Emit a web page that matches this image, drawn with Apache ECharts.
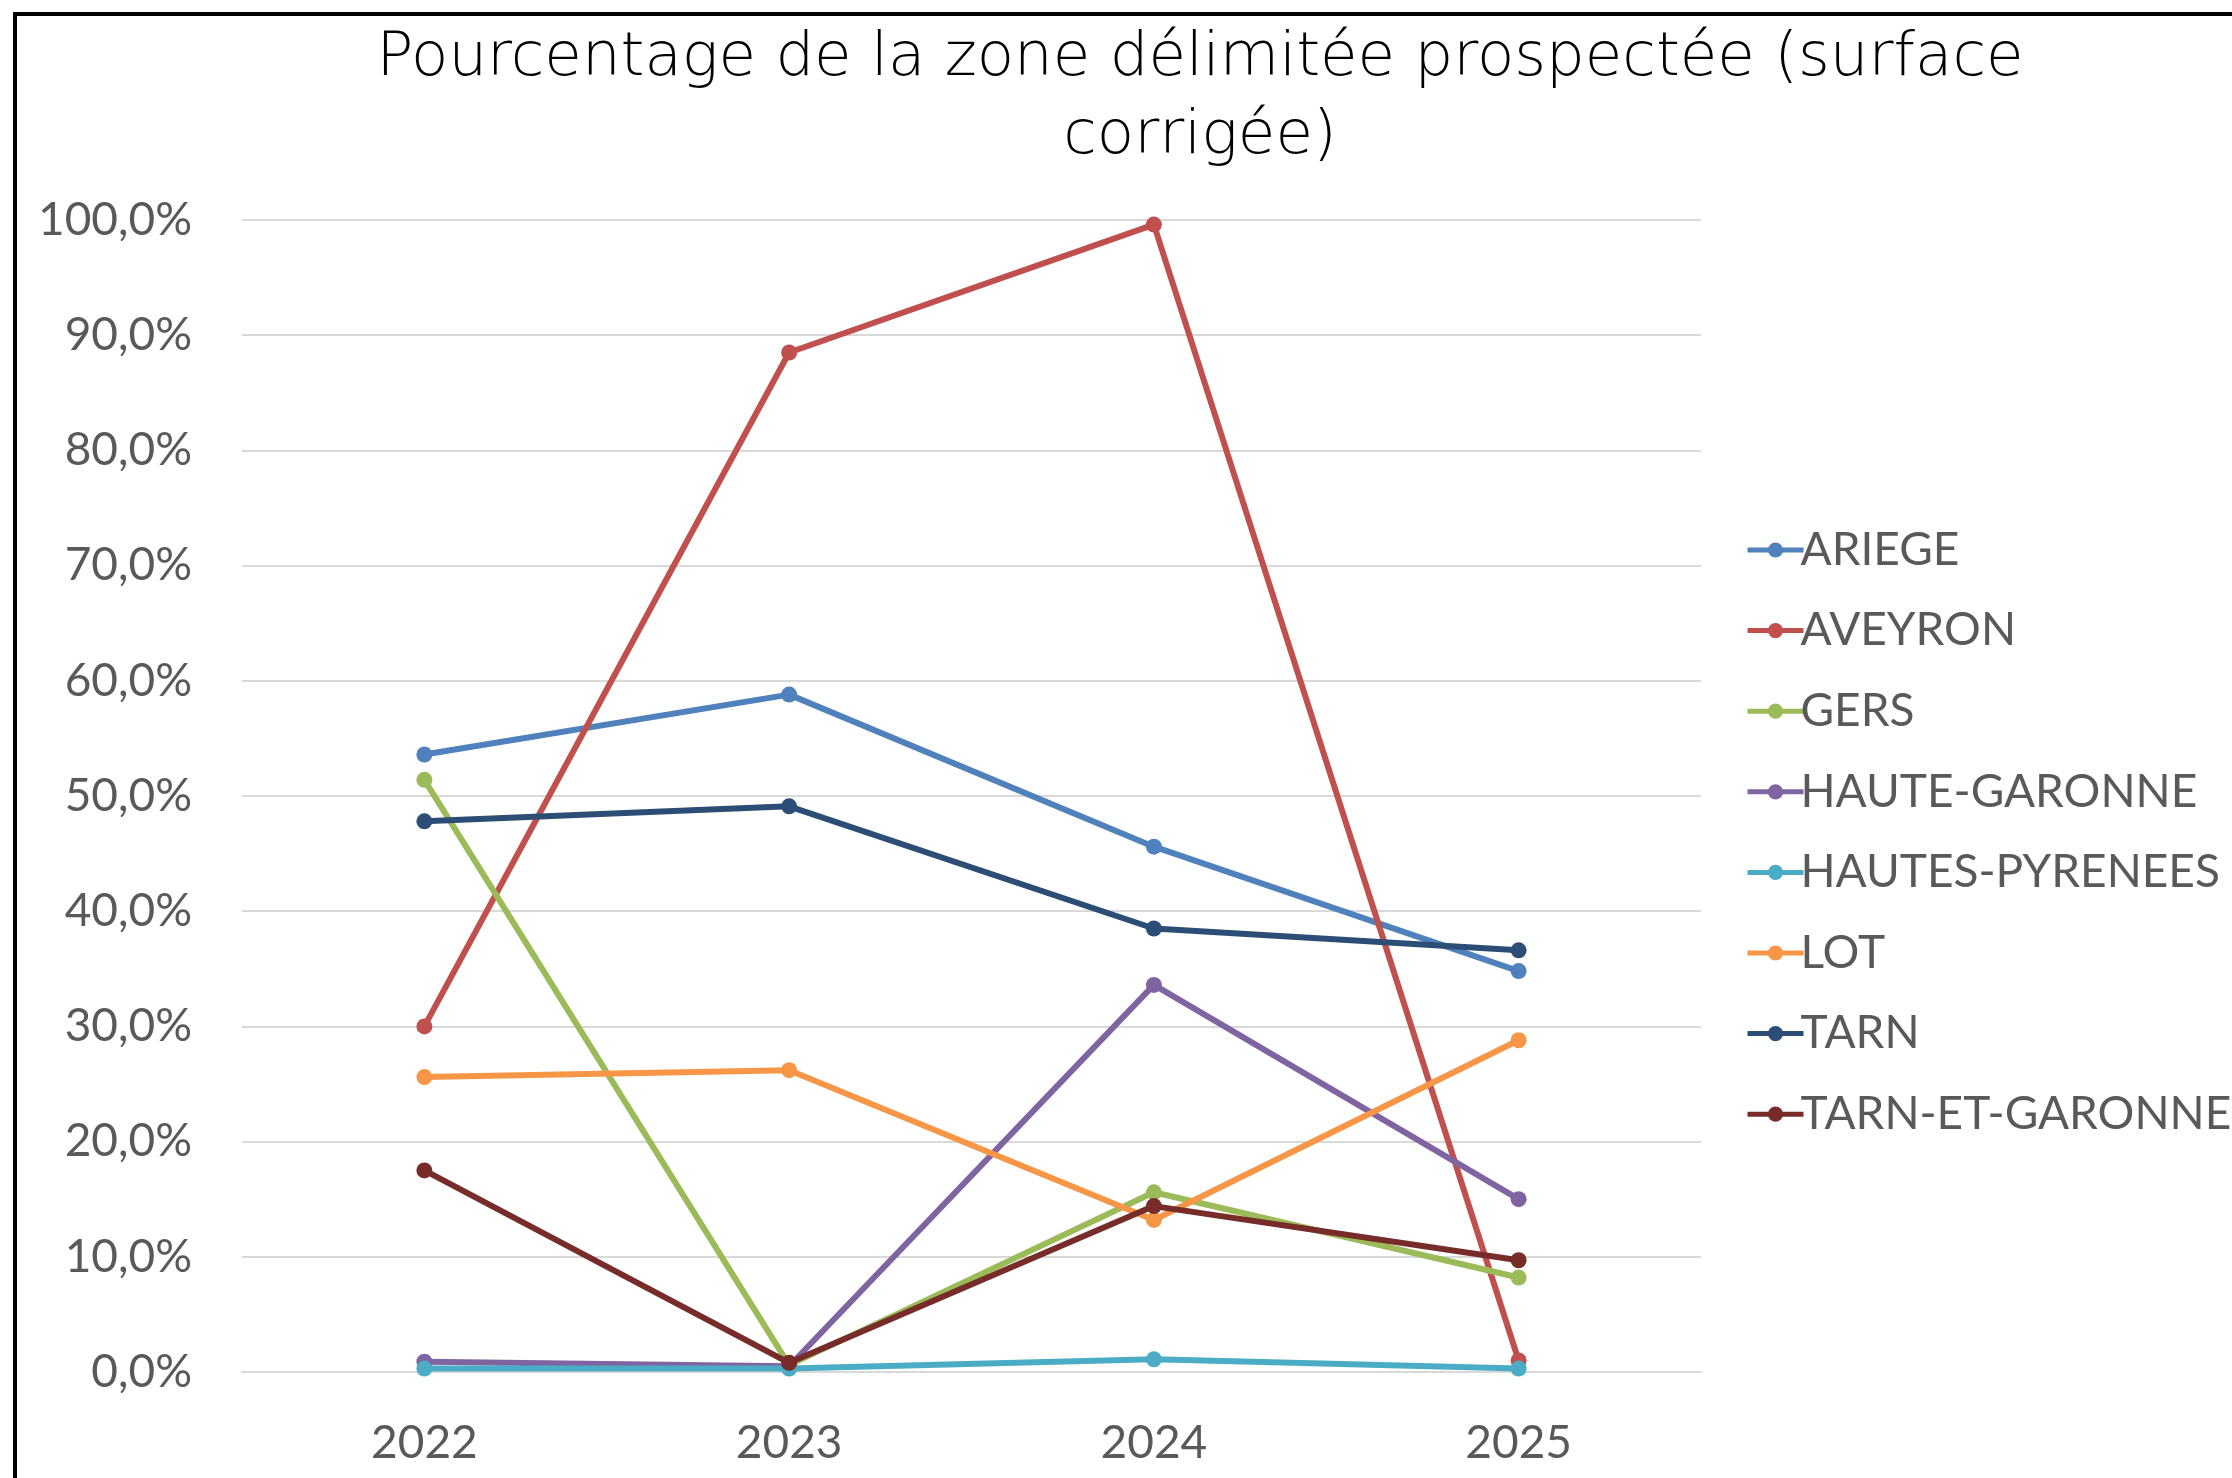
<!DOCTYPE html>
<html>
<head>
<meta charset="utf-8">
<script src="https://cdn.jsdelivr.net/npm/echarts@6/dist/echarts.min.js"></script>
<style>
  html, body { margin: 0; padding: 0; background: #fff; }
  #chart { width: 2232px; height: 1478px; }
</style>
</head>
<body>
<div id="chart"></div>
<script>
// years on the x axis
const years = ['2022', '2023', '2024', '2025'];

// percentage values (0-100)
const ariege = [53.6, 58.8, 45.6, 34.8];
const aveyron = [30.0, 88.5, 99.6, 1.0];
const gers = [51.4, 0.6, 15.6, 8.2];
const hauteGaronne = [0.9, 0.5, 33.6, 15.0];
const hautesPyrenees = [0.3, 0.3, 1.1, 0.3];
const lot = [25.6, 26.2, 13.2, 28.8];
const tarn = [47.8, 49.1, 38.5, 36.6];
const tarnEtGaronne = [17.5, 0.8, 14.4, 9.7];

const seriesNames = ['ARIEGE', 'AVEYRON', 'GERS', 'HAUTE-GARONNE', 'HAUTES-PYRENEES', 'LOT', 'TARN', 'TARN-ET-GARONNE'];
const seriesValues = [ariege, aveyron, gers, hauteGaronne, hautesPyrenees, lot, tarn, tarnEtGaronne];
const seriesColors = ['#4F81BD', '#C0504D', '#9BBB59', '#8064A2', '#4BACC6', '#F79646', '#2C4D75', '#772C2A'];

const titleText = 'Pourcentage de la zone délimitée prospectée (surface\ncorrigée)';

const FONT = 'Lato, "Open Sans", sans-serif';
const TITLE_FONT = '"DejaVu Sans", Lato, sans-serif';
const TEXT_GREY = '#595959';

const chart = echarts.init(document.getElementById('chart'));

const series = seriesNames.map((name, i) => ({
  name: name,
  type: 'line',
  data: seriesValues[i],
  symbol: 'circle',
  symbolSize: 16,
  color: seriesColors[i],
  lineStyle: { width: 6, color: seriesColors[i] },
  itemStyle: { color: seriesColors[i] },
  emphasis: { disabled: true },
  animation: false
}));

chart.setOption({
  backgroundColor: '#fff',
  animation: false,
  graphic: [
    {
      type: 'rect',
      shape: { x: 15, y: 14, width: 2400, height: 1600 },
      style: { fill: 'none', stroke: '#000', lineWidth: 4 },
      silent: true
    },
    {
      type: 'text',
      x: 1200,
      y: 20,
      style: {
        text: titleText,
        font: '200 61px ' + TITLE_FONT,
        fill: '#000',
        textAlign: 'center',
        textVerticalAlign: 'top',
        lineHeight: 78
      },
      silent: true
    }
  ],
  grid: {
    left: 242,
    right: 531,
    top: 220,
    bottom: 106,
    containLabel: false
  },
  legend: {
    orient: 'vertical',
    left: 1740,
    top: 520,
    itemWidth: 56,
    itemHeight: 19,
    itemGap: 30.6,
    data: seriesNames,
    lineStyle: { width: 5 },
    textStyle: {
      fontFamily: FONT,
      fontSize: 46,
      color: TEXT_GREY,
      lineHeight: 50,
      padding: [0, 0, 0, -8]
    }
  },
  xAxis: {
    type: 'category',
    data: years,
    boundaryGap: true,
    axisLine: { show: true, lineStyle: { color: '#d9d9d9', width: 2 } },
    axisTick: { show: false },
    axisLabel: {
      fontFamily: FONT,
      fontSize: 46,
      color: TEXT_GREY,
      margin: 48
    }
  },
  yAxis: {
    type: 'value',
    min: 0,
    max: 100,
    interval: 10,
    axisLine: { show: false },
    axisTick: { show: false },
    splitLine: { lineStyle: { color: '#d9d9d9', width: 2 } },
    axisLabel: {
      fontFamily: FONT,
      fontSize: 46,
      color: TEXT_GREY,
      margin: 50,
      formatter: v => v.toFixed(1).replace('.', ',') + '%'
    }
  },
  series: series
});

window.addEventListener('resize', () => {
  chart.resize();
});
</script>
</body>
</html>
